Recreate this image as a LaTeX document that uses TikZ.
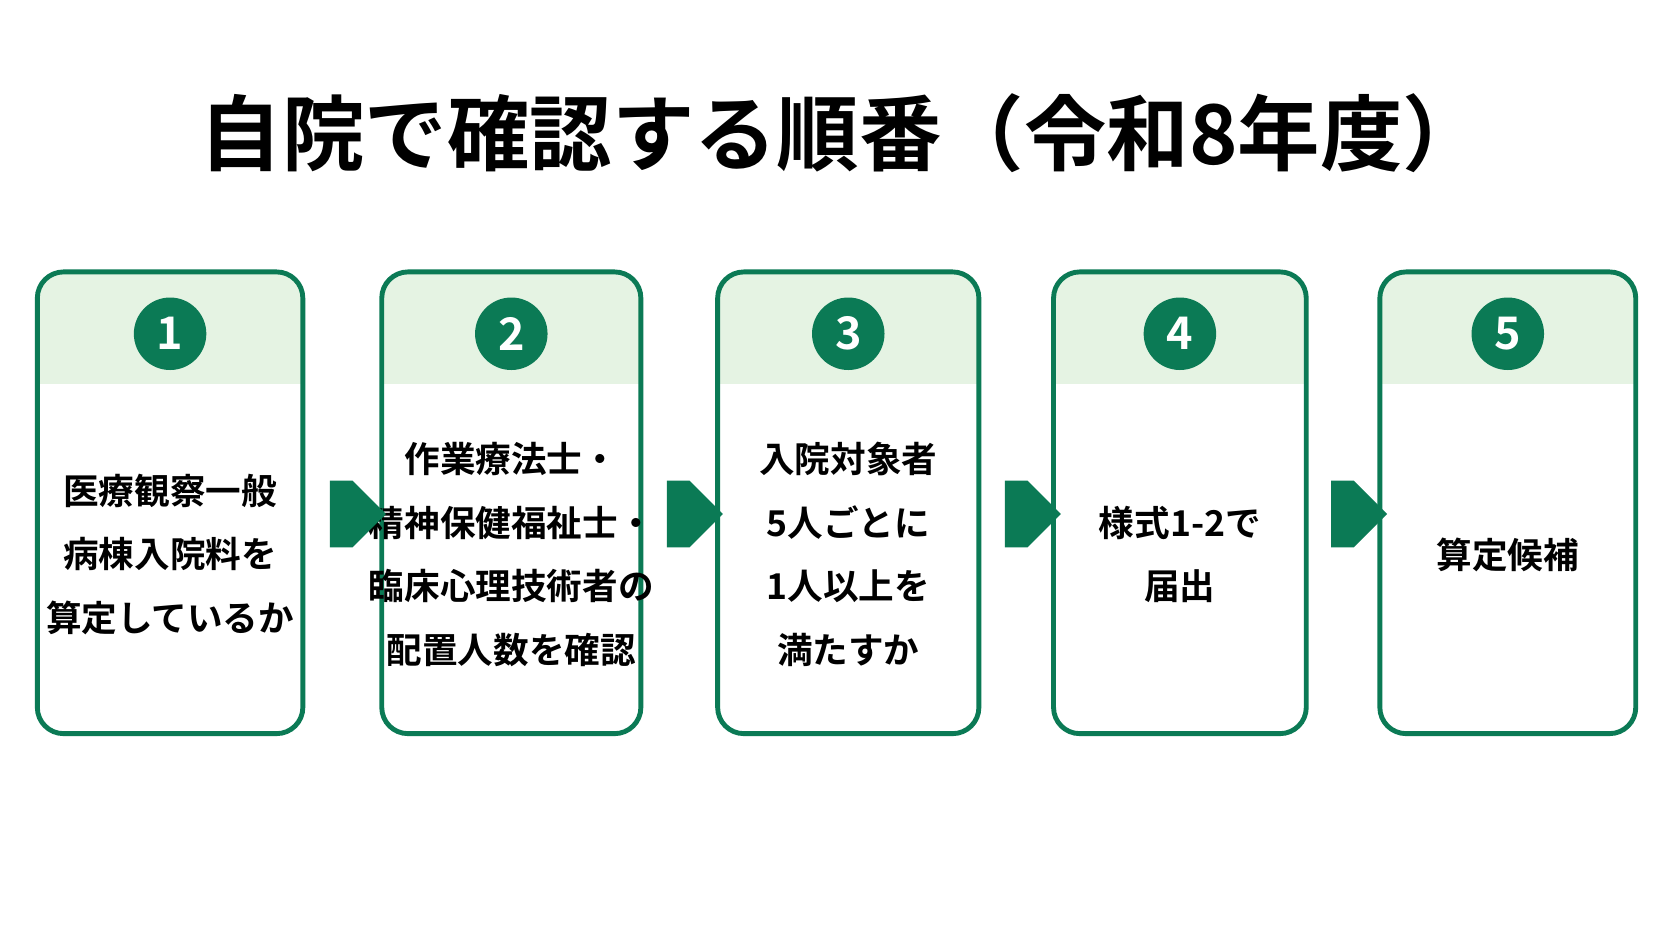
\documentclass[tikz,border=0pt]{standalone}
\usepackage{fontspec}
\setmainfont{Noto Sans CJK JP}[BoldFont={* Bold}]
\usetikzlibrary{shapes.arrows}
\definecolor{dunkelgruen}{HTML}{0B7A55}
\definecolor{hellgruen}{HTML}{E5F3E3}
\tikzset{
  kasten/.style={draw=dunkelgruen, line width=2.6pt, rounded corners=14pt},
  band/.style={fill=hellgruen},
  num/.style={circle, fill=dunkelgruen, text=white, minimum size=1.36cm, font=\bfseries\fontsize{24}{24}\selectfont},
  txt/.style={align=center, font=\bfseries\fontsize{19}{34}\selectfont},
  pfeil/.style={single arrow, fill=dunkelgruen, minimum height=1.05cm, minimum width=1.25cm, single arrow head extend=0cm, inner sep=0pt, shape border rotate=0}
}
\newcommand{\stufe}[5]{% left, right, name, number, text
  \begin{scope}
    \clip[rounded corners=14pt] (#1,-255) rectangle (#2,-688);
    \fill[band] (#1,-255) rectangle (#2,-360);
  \end{scope}
  \draw[kasten] (#1,-255) rectangle (#2,-688);
  \node[num] (#3n) at ({(#1+#2)/2},-313) {#4};
  \node[txt] (#3) at ({(#1+#2)/2},-520) {#5};
}
\begin{document}
\begin{tikzpicture}[x=0.02cm, y=0.02cm]
\useasboundingbox[fill=white] (0,0) rectangle (1568,-882);
% title
\node[font=\bfseries\fontsize{44}{44}\selectfont] (titel) at (790,-125) {自院で確認する順番（令和8年度）};
% steps
\stufe{35}{284}{s1}{1}{医療観察一般\\病棟入院料を\\算定しているか}
\stufe{358}{601}{s2}{2}{作業療法士・\\精神保健福祉士・\\臨床心理技術者の\\配置人数を確認}
\stufe{673}{918}{s3}{3}{入院対象者\\5人ごとに\\1人以上を\\満たすか}
\stufe{988}{1225}{s4}{4}{様式1-2で\\届出}
\stufe{1294}{1534}{s5}{5}{算定候補}
% arrows
\node[pfeil] (p1) at (320,-482) {};
\node[pfeil] (p2) at (636,-482) {};
\node[pfeil] (p3) at (953,-482) {};
\node[pfeil] (p4) at (1259,-482) {};
\end{tikzpicture}
\end{document}
